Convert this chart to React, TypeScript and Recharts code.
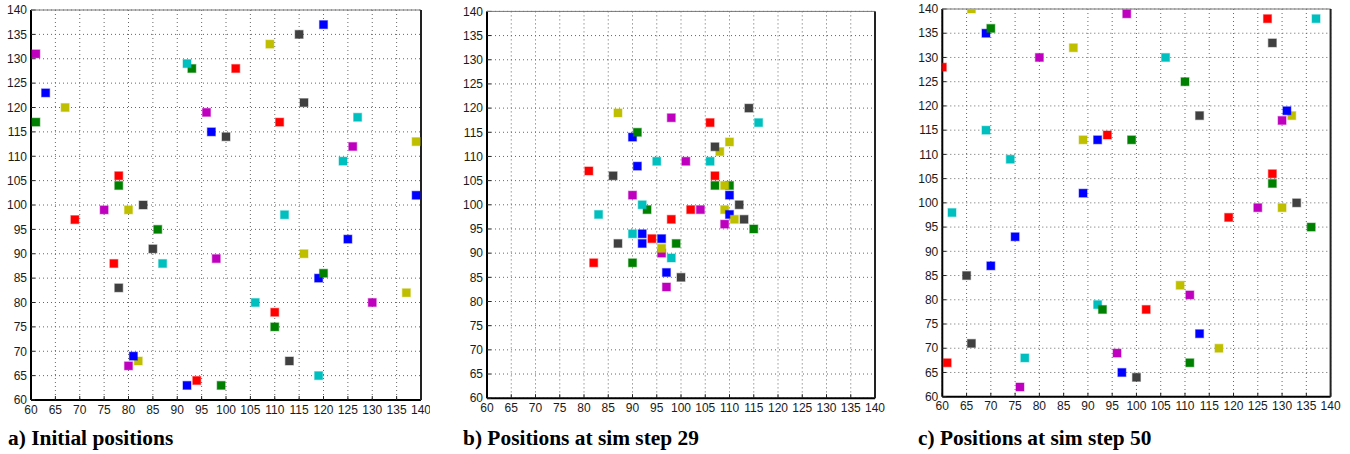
import React from 'react';
import { ScatterChart, Scatter, XAxis, YAxis, CartesianGrid } from 'recharts';

const TICKS = [60, 65, 70, 75, 80, 85, 90, 95, 100, 105, 110, 115, 120, 125, 130, 135, 140];

const COLORS: Record<string, string> = {
  r: '#ff0000',
  g: '#008000',
  b: '#0000ff',
  c: '#00bfbf',
  m: '#bf00bf',
  y: '#bfbf00',
  k: '#404040',
};

type P = { x: number; y: number; c: string };

const initialPositions: P[] = [
  { x: 120, y: 137, c: 'b' }, { x: 63, y: 123, c: 'b' }, { x: 97, y: 115, c: 'b' }, { x: 139, y: 102, c: 'b' },
  { x: 125, y: 93, c: 'b' }, { x: 119, y: 85, c: 'b' }, { x: 92, y: 63, c: 'b' },
  { x: 102, y: 128, c: 'r' }, { x: 111, y: 117, c: 'r' }, { x: 78, y: 106, c: 'r' }, { x: 69, y: 97, c: 'r' },
  { x: 77, y: 88, c: 'r' }, { x: 110, y: 78, c: 'r' }, { x: 94, y: 64, c: 'r' },
  { x: 93, y: 128, c: 'g' }, { x: 61, y: 117, c: 'g' }, { x: 78, y: 104, c: 'g' }, { x: 86, y: 95, c: 'g' },
  { x: 120, y: 86, c: 'g' }, { x: 110, y: 75, c: 'g' }, { x: 99, y: 63, c: 'g' },
  { x: 92, y: 129, c: 'c' }, { x: 127, y: 118, c: 'c' }, { x: 124, y: 109, c: 'c' }, { x: 112, y: 98, c: 'c' },
  { x: 87, y: 88, c: 'c' }, { x: 106, y: 80, c: 'c' }, { x: 119, y: 65, c: 'c' },
  { x: 109, y: 133, c: 'y' }, { x: 67, y: 120, c: 'y' }, { x: 139, y: 113, c: 'y' }, { x: 80, y: 99, c: 'y' },
  { x: 116, y: 90, c: 'y' }, { x: 137, y: 82, c: 'y' }, { x: 82, y: 68, c: 'y' },
  { x: 61, y: 131, c: 'm' }, { x: 96, y: 119, c: 'm' }, { x: 126, y: 112, c: 'm' }, { x: 75, y: 99, c: 'm' },
  { x: 98, y: 89, c: 'm' }, { x: 130, y: 80, c: 'm' }, { x: 80, y: 67, c: 'm' },
  { x: 115, y: 135, c: 'k' }, { x: 116, y: 121, c: 'k' }, { x: 100, y: 114, c: 'k' }, { x: 83, y: 100, c: 'k' },
  { x: 85, y: 91, c: 'k' }, { x: 78, y: 83, c: 'k' }, { x: 113, y: 68, c: 'k' },
  { x: 81, y: 69, c: 'b' },
];

const step29Positions: P[] = [
  { x: 90, y: 114, c: 'b' }, { x: 91, y: 108, c: 'b' }, { x: 110, y: 102, c: 'b' }, { x: 92, y: 94, c: 'b' },
  { x: 96, y: 93, c: 'b' }, { x: 92, y: 92, c: 'b' }, { x: 97, y: 86, c: 'b' },
  { x: 81, y: 107, c: 'r' }, { x: 106, y: 117, c: 'r' }, { x: 107, y: 106, c: 'r' }, { x: 102, y: 99, c: 'r' },
  { x: 98, y: 97, c: 'r' }, { x: 94, y: 93, c: 'r' }, { x: 82, y: 88, c: 'r' },
  { x: 91, y: 115, c: 'g' }, { x: 93, y: 99, c: 'g' }, { x: 107, y: 104, c: 'g' }, { x: 110, y: 104, c: 'g' },
  { x: 115, y: 95, c: 'g' }, { x: 99, y: 92, c: 'g' }, { x: 90, y: 88, c: 'g' },
  { x: 95, y: 109, c: 'c' }, { x: 92, y: 100, c: 'c' }, { x: 116, y: 117, c: 'c' }, { x: 106, y: 109, c: 'c' },
  { x: 83, y: 98, c: 'c' }, { x: 90, y: 94, c: 'c' }, { x: 98, y: 89, c: 'c' },
  { x: 98, y: 118, c: 'm' }, { x: 90, y: 102, c: 'm' }, { x: 101, y: 109, c: 'm' }, { x: 104, y: 99, c: 'm' },
  { x: 109, y: 96, c: 'm' }, { x: 96, y: 90, c: 'm' }, { x: 97, y: 83, c: 'm' },
  { x: 87, y: 119, c: 'y' }, { x: 110, y: 113, c: 'y' }, { x: 108, y: 111, c: 'y' }, { x: 109, y: 104, c: 'y' },
  { x: 109, y: 99, c: 'y' }, { x: 96, y: 91, c: 'y' },
  { x: 110, y: 98, c: 'b' },
  { x: 111, y: 97, c: 'y' },
  { x: 86, y: 106, c: 'k' }, { x: 114, y: 120, c: 'k' }, { x: 107, y: 112, c: 'k' }, { x: 112, y: 100, c: 'k' },
  { x: 113, y: 97, c: 'k' }, { x: 87, y: 92, c: 'k' }, { x: 100, y: 85, c: 'k' },
];

const step50Positions: P[] = [
  { x: 66, y: 140, c: 'y' }, { x: 87, y: 132, c: 'y' }, { x: 132, y: 118, c: 'y' }, { x: 89, y: 113, c: 'y' },
  { x: 130, y: 99, c: 'y' }, { x: 109, y: 83, c: 'y' }, { x: 117, y: 70, c: 'y' },
  { x: 137, y: 138, c: 'c' }, { x: 106, y: 130, c: 'c' }, { x: 69, y: 115, c: 'c' }, { x: 74, y: 109, c: 'c' },
  { x: 62, y: 98, c: 'c' }, { x: 92, y: 79, c: 'c' }, { x: 77, y: 68, c: 'c' },
  { x: 69, y: 135, c: 'b' }, { x: 131, y: 119, c: 'b' }, { x: 92, y: 113, c: 'b' }, { x: 89, y: 102, c: 'b' },
  { x: 75, y: 93, c: 'b' }, { x: 70, y: 87, c: 'b' }, { x: 113, y: 73, c: 'b' }, { x: 97, y: 65, c: 'b' },
  { x: 98, y: 139, c: 'm' }, { x: 80, y: 130, c: 'm' }, { x: 130, y: 117, c: 'm' }, { x: 125, y: 99, c: 'm' },
  { x: 111, y: 81, c: 'm' }, { x: 96, y: 69, c: 'm' }, { x: 76, y: 62, c: 'm' },
  { x: 70, y: 136, c: 'g' }, { x: 110, y: 125, c: 'g' }, { x: 99, y: 113, c: 'g' }, { x: 128, y: 104, c: 'g' },
  { x: 136, y: 95, c: 'g' }, { x: 93, y: 78, c: 'g' }, { x: 111, y: 67, c: 'g' },
  { x: 60, y: 128, c: 'r' }, { x: 127, y: 138, c: 'r' }, { x: 94, y: 114, c: 'r' }, { x: 128, y: 106, c: 'r' },
  { x: 119, y: 97, c: 'r' }, { x: 102, y: 78, c: 'r' }, { x: 61, y: 67, c: 'r' },
  { x: 128, y: 133, c: 'k' }, { x: 113, y: 118, c: 'k' }, { x: 133, y: 100, c: 'k' }, { x: 65, y: 85, c: 'k' },
  { x: 66, y: 71, c: 'k' }, { x: 100, y: 64, c: 'k' },
];

const panelTitles = ['a) Initial positions', 'b) Positions at sim step 29', 'c) Positions at sim step 50'];

const Square = (props: any) => {
  const { cx, cy, payload } = props;
  if (cx == null || cy == null) return <g />;
  const col = COLORS[payload.c];
  return (
    <rect
      x={cx - 4}
      y={cy - 4}
      width={8}
      height={8}
      fill={col}
      stroke={col}
      strokeOpacity={0.4}
      strokeWidth={1.2}
    />
  );
};

const tickStyle = { fontFamily: '"Liberation Sans", Arial, sans-serif', fontSize: 12, fill: '#1a1a1a' };

type PanelProps = {
  data: P[];
  left: number;
  width: number;
  margin: { top: number; right: number; bottom: number; left: number };
  title: string;
  titleLeft: number;
};

const Panel = ({ data, left, width, margin, title, titleLeft }: PanelProps) => (
  <>
    <div style={{ position: 'absolute', left, top: 0 }}>
      <ScatterChart width={width} height={454} margin={margin}>
        <CartesianGrid stroke="#666" strokeDasharray="1 3" strokeWidth={1} />
        <XAxis
          type="number"
          dataKey="x"
          domain={[60, 140]}
          ticks={TICKS}
          interval={0}
          allowDataOverflow
          height={25}
          tick={tickStyle}
          tickSize={-4}
          tickMargin={9}
          axisLine={{ stroke: '#000', strokeWidth: 2 }}
          tickLine={{ stroke: '#222' }}
        />
        <YAxis
          type="number"
          dataKey="y"
          domain={[60, 140]}
          ticks={TICKS}
          interval={0}
          allowDataOverflow
          width={30}
          tick={tickStyle}
          tickSize={-4}
          tickMargin={8}
          axisLine={{ stroke: '#000', strokeWidth: 2 }}
          tickLine={{ stroke: '#222' }}
        />
        <XAxis
          xAxisId="top"
          orientation="top"
          type="number"
          domain={[60, 140]}
          ticks={TICKS}
          interval={0}
          height={1}
          mirror
          tick={false}
          tickSize={4}
          axisLine={{ stroke: '#777', strokeWidth: 1 }}
          tickLine={{ stroke: '#222' }}
        />
        <YAxis
          yAxisId="right"
          orientation="right"
          type="number"
          domain={[60, 140]}
          ticks={TICKS}
          interval={0}
          width={1}
          mirror
          tick={false}
          tickSize={4}
          axisLine={{ stroke: '#222', strokeWidth: 2 }}
          tickLine={{ stroke: '#222' }}
        />
        <Scatter data={data} shape={Square} isAnimationActive={false} />
      </ScatterChart>
    </div>
    <div
      style={{
        position: 'absolute',
        left: titleLeft,
        top: 428,
        fontFamily: '"Liberation Serif", "Times New Roman", serif',
        fontWeight: 'bold',
        fontSize: 21.4,
        lineHeight: '21px',
        color: '#000',
        whiteSpace: 'nowrap',
      }}
    >
      {title}
    </div>
  </>
);

export default function App() {
  return (
    <div style={{ position: 'fixed', left: 0, top: 0, width: 1350, height: 454, background: '#fff' }}>
      <Panel
        data={initialPositions}
        left={0}
        width={430}
        margin={{ top: 10, right: 9, bottom: 29, left: 1 }}
        title={panelTitles[0]}
        titleLeft={8}
      />
      <Panel
        data={step29Positions}
        left={450}
        width={440}
        margin={{ top: 11.4, right: 15, bottom: 30.8, left: 7 }}
        title={panelTitles[1]}
        titleLeft={463}
      />
      <Panel
        data={step50Positions}
        left={900}
        width={445}
        margin={{ top: 9, right: 14.4, bottom: 32.3, left: 12.3 }}
        title={panelTitles[2]}
        titleLeft={918}
      />
    </div>
  );
}
